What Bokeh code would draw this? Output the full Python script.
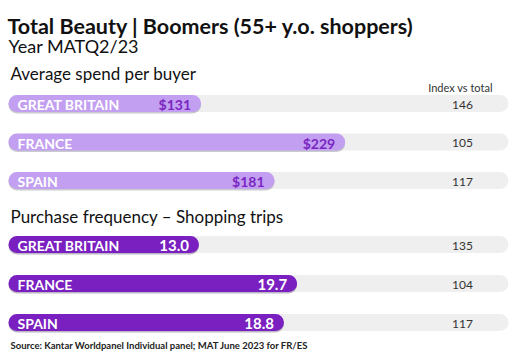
from bokeh.plotting import figure
from bokeh.models import Range1d, ColumnDataSource
from bokeh.embed import file_html
from bokeh.resources import INLINE
from bokeh.core.properties import value

countries = ["GREAT BRITAIN", "FRANCE", "SPAIN"]
spend = [131, 229, 181]
spend_labels = ["$131", "$229", "$181"]
spend_index = [146, 105, 117]
trips = [13.0, 19.7, 18.8]
trips_labels = ["13.0", "19.7", "18.8"]
trips_index = [135, 104, 117]

title = "Total Beauty | Boomers (55+ y.o. shoppers)"
subtitle = "Year MATQ2/23"
sec1 = "Average spend per buyer"
sec2 = "Purchase frequency – Shopping trips"
index_head = "Index vs total"
source_txt = "Source: Kantar Worldpanel Individual panel; MAT June 2023 for FR/ES"

FONT = "Lato"
LIGHT = "#c29ff0"
DARK = "#7a1fc0"
VAL_DARK = "#7a26c2"
TRACK = "#efefef"
R = 9

W, H = 512, 360
p = figure(width=W, height=H, output_backend="svg", toolbar_location=None,
           x_range=Range1d(0, W), y_range=Range1d(H, 0),
           min_border=0, border_fill_color="white", background_fill_color="white")
p.axis.visible = False
p.grid.visible = False
p.outline_line_color = None

# value scales (bars start at x=8)
X0 = 8
p.extra_x_ranges = {"spend": Range1d(-X0 / 1.47, (W - X0) / 1.47),
                    "trips": Range1d(-X0 / 14.65, (W - X0) / 14.65)}

spend_y = [103, 141.5, 180]
trips_y = [244, 283, 322]
BH = 17

# tracks
for ys in (spend_y, trips_y):
    p.hbar(y=ys, left=X0, right=508, height=BH, fill_color=TRACK, line_color=None,
           border_radius=R)

# shadows
p.hbar(y=[y + 1.5 for y in spend_y], left=0, right=spend, height=BH, x_range_name="spend",
       fill_color="#8a8a9a", fill_alpha=0.45, line_color=None, border_radius=R)
p.hbar(y=[y + 1.5 for y in trips_y], left=0, right=trips, height=BH, x_range_name="trips",
       fill_color="#6a5a7a", fill_alpha=0.45, line_color=None, border_radius=R)

# bars
src1 = ColumnDataSource(dict(y=spend_y, v=spend, lab=spend_labels, c=countries,
                             idx=[str(i) for i in spend_index]))
src2 = ColumnDataSource(dict(y=trips_y, v=trips, lab=trips_labels, c=countries,
                             idx=[str(i) for i in trips_index]))
p.hbar(y="y", left=0, right="v", height=BH, source=src1, x_range_name="spend",
       fill_color=LIGHT, line_color=None, border_radius=R)
p.hbar(y="y", left=0, right="v", height=BH, source=src2, x_range_name="trips",
       fill_color=DARK, line_color=None, border_radius=R)

# country labels and index values
for src in (src1, src2):
    p.text(x=17, y="y", text="c", source=src, text_color="white", text_font=value(FONT),
           text_font_style="bold", text_font_size="14px", text_baseline="middle",
           y_offset=1)
    p.text(x=462, y="y", text="idx", source=src, text_color="#333333", text_font=value(FONT),
           text_font_size="12px", text_baseline="middle", text_align="center", y_offset=1)

# value labels
p.text(x="v", y="y", text="lab", source=src1, x_range_name="spend", x_offset=-10,
       text_color=VAL_DARK, text_font=value(FONT), text_font_style="bold",
       text_font_size="14px", text_baseline="middle", text_align="right", y_offset=1)
p.text(x="v", y="y", text="lab", source=src2, x_range_name="trips", x_offset=-10,
       text_color="white", text_font=value(FONT), text_font_style="bold",
       text_font_size="15px", text_baseline="middle", text_align="right", y_offset=1)

# headings
p.text(x=[7], y=[25], text=[title], text_font=value(FONT), text_font_style="bold",
       text_font_size="21.5px", text_color="#111111", text_baseline="middle")
p.text(x=[8], y=[45], text=[subtitle], text_font=value(FONT),
       text_font_size="18px", text_color="#111111", text_baseline="middle")
p.text(x=[10], y=[73], text=[sec1], text_font=value(FONT),
       text_font_size="17px", text_color="#111111", text_baseline="middle")
p.text(x=[10], y=[216], text=[sec2], text_font=value(FONT),
       text_font_size="17px", text_color="#111111", text_baseline="middle")
p.text(x=[460], y=[87], text=[index_head], text_font=value(FONT),
       text_font_size="11px", text_color="#333333", text_baseline="middle", text_align="center")
p.text(x=[10], y=[345], text=[source_txt], text_font=value(FONT), text_font_style="bold",
       text_font_size="9.5px", text_color="#222222", text_baseline="middle")

open("out.html", "w").write(file_html(p, INLINE))
